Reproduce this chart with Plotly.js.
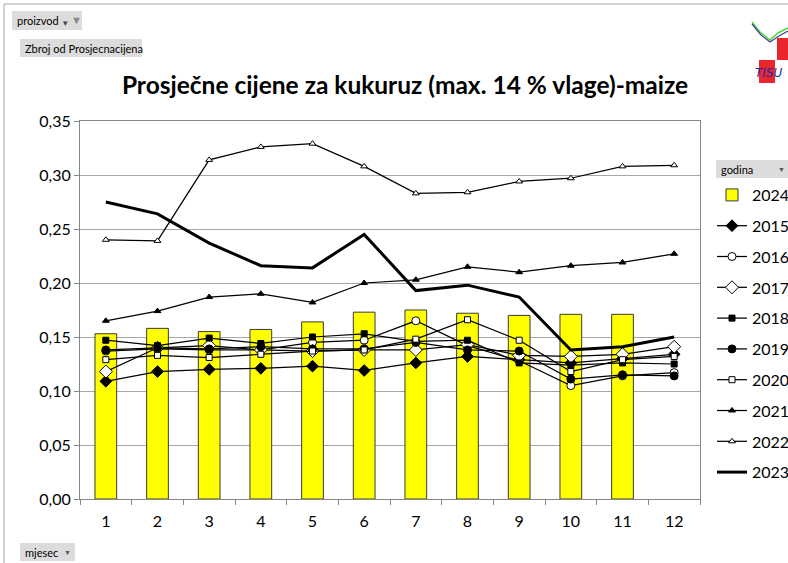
<!DOCTYPE html>
<html>
<head>
<meta charset="utf-8">
<script src="https://cdn.plot.ly/plotly-3.0.1.min.js"></script>
<style>
  html, body { margin: 0; padding: 0; background: #ffffff; }
  #chart { width: 788px; height: 563px; }
</style>
</head>
<body>
<div id="chart"></div>
<script>
// ---- data ----
const months = ["1","2","3","4","5","6","7","8","9","10","11","12"];
const y2024 = [0.153,0.158,0.155,0.157,0.164,0.173,0.175,0.172,0.170,0.171,0.171];
const y2015 = [0.109,0.118,0.120,0.121,0.123,0.119,0.126,0.132,0.129,0.126,0.130,0.134];
const y2016 = [0.137,0.139,0.138,0.138,0.145,0.147,0.165,0.142,0.128,0.105,0.114,0.117];
const y2017 = [0.118,0.140,0.142,0.138,0.137,0.138,0.138,0.143,0.133,0.132,0.134,0.141];
const y2018 = [0.147,0.142,0.149,0.144,0.150,0.153,0.146,0.147,0.126,0.124,0.126,0.125];
const y2019 = [0.138,0.140,0.139,0.141,0.139,0.139,0.145,0.138,0.137,0.111,0.115,0.114];
const y2020 = [0.129,0.133,0.131,0.134,0.137,0.138,0.148,0.166,0.147,0.118,0.129,0.132];
const y2021 = [0.165,0.174,0.187,0.190,0.182,0.200,0.203,0.215,0.210,0.216,0.219,0.227];
const y2022 = [0.240,0.239,0.314,0.326,0.329,0.308,0.283,0.284,0.294,0.297,0.308,0.309];
const y2023 = [0.275,0.264,0.237,0.216,0.214,0.245,0.193,0.198,0.187,0.138,0.141,0.150];
const yTickVals = [0,0.05,0.10,0.15,0.20,0.25,0.30,0.35];

// ---- layout helpers (pixel -> paper) ----
const W = 788, H = 563, L = 80, R = 88, T = 121, B = 64;
const pw = W - L - R, ph = H - T - B;
const px = x => (x - L) / pw;
const py = y => (H - B - y) / ph;

function lineTrace(name, y, symbol, size, fill, width) {
  const t = {
    type: 'scatter', mode: symbol ? 'lines+markers' : 'lines',
    name: name, x: months, y: y, legendgroup: name,
    line: { color: '#000000', width: width || 1.25 }
  };
  if (symbol) {
    t.marker = { symbol: symbol, size: size, color: fill, line: { color: '#000000', width: 1 } };
  }
  return t;
}

const traces = [
  { type: 'bar', name: '2024', x: months.slice(0, y2024.length), y: y2024, legendgroup: '2024',
    marker: { color: '#FFFF00', line: { color: '#3a3a3a', width: 1 } } },
  lineTrace('2015', y2015, 'diamond', 9, '#000000'),
  lineTrace('2016', y2016, 'circle', 8, '#ffffff'),
  lineTrace('2017', y2017, 'diamond', 10, '#ffffff'),
  lineTrace('2018', y2018, 'square', 6, '#000000'),
  lineTrace('2019', y2019, 'circle', 8, '#000000'),
  lineTrace('2020', y2020, 'square', 6, '#ffffff'),
  lineTrace('2021', y2021, 'triangle-up', 6, '#000000'),
  lineTrace('2022', y2022, 'triangle-up', 6, '#ffffff'),
  lineTrace('2023', y2023, null, 0, null, 3)
];

function btn(x0, y0, x1, y1) {
  return { type: 'rect', xref: 'paper', yref: 'paper', x0: px(x0), x1: px(x1), y0: py(y1), y1: py(y0),
    fillcolor: '#dcdcdc', line: { width: 0 }, layer: 'below' };
}
function lbl(text, x, y, size, extra) {
  return Object.assign({ xref: 'paper', yref: 'paper', x: px(x), y: py(y), text: text,
    showarrow: false, xanchor: 'left', yanchor: 'middle',
    font: { family: 'Lato, Open Sans, sans-serif', size: size || 11, color: '#000000' } }, extra || {});
}

const shapes = [
  { type: 'line', xref: 'paper', yref: 'paper', x0: px(4), x1: px(788), y0: py(4), y1: py(4), line: { color: '#a6a6a6', width: 1 } },
  { type: 'line', xref: 'paper', yref: 'paper', x0: px(4), x1: px(4), y0: py(4), y1: py(563), line: { color: '#a6a6a6', width: 1 } },
  btn(12, 11, 82, 30),
  btn(20, 39, 142, 57),
  btn(716, 160, 788, 178),
  btn(20, 543, 75, 561),
  { type: 'rect', xref: 'paper', yref: 'paper', x0: px(777), x1: px(788), y0: py(60), y1: py(38), fillcolor: '#e8262b', line: { width: 0 }, layer: 'below' },
  { type: 'rect', xref: 'paper', yref: 'paper', x0: px(759), x1: px(775), y0: py(83), y1: py(60), fillcolor: '#e8262b', line: { width: 0 }, layer: 'below' },
  { type: 'path', xref: 'paper', yref: 'paper',
    path: `M ${px(752)} ${py(22)} L ${px(760)} ${py(32)} L ${px(770)} ${py(40)} L ${px(778)} ${py(33)} L ${px(788)} ${py(28)}`,
    line: { color: '#44dd33', width: 1.5 } },
  { type: 'path', xref: 'paper', yref: 'paper',
    path: `M ${px(752)} ${py(24)} L ${px(761)} ${py(35)} L ${px(770)} ${py(42)} L ${px(779)} ${py(36)} L ${px(788)} ${py(31)}`,
    line: { color: '#4a3a9a', width: 1.2 } }
];

const annotations = [
  lbl('proizvod', 15, 20.5, 11),
  lbl('▾', 61, 22, 9, { font: { size: 9, color: '#444' } }),
  lbl('▼', 69, 19.5, 10, { font: { size: 11, color: '#888' } }),
  lbl('Zbroj od Prosjecnacijena', 23, 48, 11),
  lbl('godina', 719, 169, 11),
  lbl('▼', 776, 169, 7, { font: { size: 7, color: '#555' } }),
  lbl('mjesec', 23, 552, 11),
  lbl('▼', 62, 552, 7, { font: { size: 7, color: '#555' } }),
  lbl('<i>TISU</i>', 753, 73, 12, { font: { family: 'DejaVu Sans, sans-serif', size: 12, color: '#1c2fa8' } })
];

const layout = {
  width: W, height: H,
  margin: { l: L, r: R, t: T, b: B, pad: 0, autoexpand: false },
  paper_bgcolor: '#ffffff', plot_bgcolor: '#ffffff',
  separators: ',.',
  font: { family: 'Lato, Open Sans, sans-serif', color: '#000000' },
  title: { text: '<b>Prosječne cijene za kukuruz (max. 14 % vlage)-maize</b>',
    x: 405 / W, xanchor: 'center', y: 1 - 85 / H, yanchor: 'middle', yref: 'container',
    font: { family: 'Lato, Open Sans, sans-serif', size: 24.5, color: '#000000' } },
  bargap: 0.58,
  showlegend: true,
  legend: { x: px(712), xanchor: 'left', y: py(178), yanchor: 'top',
    font: { family: 'Lato, Open Sans, sans-serif', size: 16, color: '#000000' },
    bgcolor: 'rgba(0,0,0,0)', borderwidth: 0, tracegroupgap: 7, itemwidth: 30,
    traceorder: 'grouped' },
  xaxis: { type: 'category', categoryorder: 'array', categoryarray: months,
    range: [-0.5, months.length - 0.5], autorange: false,
    tickson: 'boundaries', ticks: 'outside', ticklen: 5, tickcolor: '#868686',
    ticklabelstandoff: 8,
    showgrid: false, showline: true, linecolor: '#868686', linewidth: 1, mirror: true,
    tickfont: { size: 16, color: '#000000' }, zeroline: false, fixedrange: true },
  yaxis: { range: [0, 0.35], tickvals: yTickVals, tickformat: '.2f',
    ticks: 'outside', ticklen: 5, tickcolor: '#868686',
    showgrid: true, gridcolor: '#a6a6a6', gridwidth: 1,
    showline: true, linecolor: '#868686', linewidth: 1, mirror: true,
    zeroline: false, tickfont: { size: 16, color: '#000000' }, fixedrange: true },
  shapes: shapes,
  annotations: annotations
};

Plotly.newPlot('chart', traces, layout, { displayModeBar: false, staticPlot: true });
</script>
</body>
</html>
